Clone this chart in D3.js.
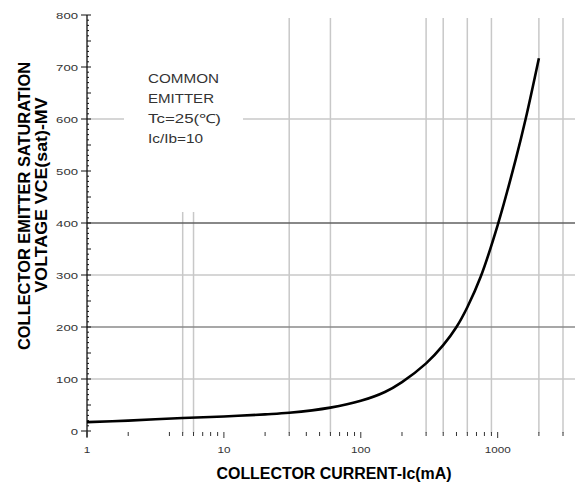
<!DOCTYPE html>
<html>
<head>
<meta charset="utf-8">
<script src="https://cdn.jsdelivr.net/npm/d3@7"></script>
<style>
  body { margin: 0; background: #fff; }
  svg { display: block; font-family: Arial, "Liberation Sans", sans-serif; }
</style>
</head>
<body>
<svg id="chart" width="575" height="486"></svg>
<script>
// curve
const currentMA = [1, 2, 5, 10, 20, 30, 60, 100, 150, 200, 300, 400, 500, 600, 750, 1000, 1350, 1600, 2000];
const vceMV     = [17, 20, 25, 28, 32, 35, 45, 58, 75, 94, 130, 165, 200, 238, 296, 396, 521, 600, 717];

const xMajorTicks = [1, 10, 100, 1000];
const xMinorTicks = [2, 4, 5, 6, 7, 8, 9, 20, 30, 40, 50, 60, 70, 80, 90,
                     200, 300, 400, 500, 600, 700, 800, 900, 2000, 3000];
const xGrid = [30, 60, 300, 400, 600, 900, 2000, 3000];
const xGridShort = [5, 6];
const yTicks = [0, 100, 200, 300, 400, 500, 600, 700, 800];
const yGridLight = [100, 300, 600];
const yGridMid = [200];
const yGridDark = [400];
const noteLines = ["COMMON", "EMITTER", "Tc=25(\u2103)", "Ic/Ib=10"];
const noteWidths = [71, 66, 73, 55];

const svg = d3.select("#chart");

const x = d3.scaleLog().domain([1, 3000]).range([87, 563]);
const y = d3.scaleLinear().domain([0, 800]).range([431, 15]);

// grid
const grid = svg.append("g");
grid.selectAll(".vg").data(xGrid).enter().append("line")
  .attr("x1", d => x(d)).attr("x2", d => x(d))
  .attr("y1", 18).attr("y2", 433)
  .attr("stroke", "#c8c8c8").attr("stroke-width", 1.5);
grid.selectAll(".vgs").data(xGridShort).enter().append("line")
  .attr("x1", d => x(d)).attr("x2", d => x(d))
  .attr("y1", 212).attr("y2", 433)
  .attr("stroke", "#c8c8c8").attr("stroke-width", 1.5);

grid.selectAll(".hgl").data(yGridLight).enter().append("line")
  .attr("x1", 87).attr("x2", 575)
  .attr("y1", d => y(d)).attr("y2", d => y(d))
  .attr("stroke", "#c8c8c8").attr("stroke-width", 1.5);
grid.selectAll(".hgm").data(yGridMid).enter().append("line")
  .attr("x1", 87).attr("x2", 575)
  .attr("y1", d => y(d)).attr("y2", d => y(d))
  .attr("stroke", "#8a8a8a").attr("stroke-width", 1.5);
grid.selectAll(".hgd").data(yGridDark).enter().append("line")
  .attr("x1", 87).attr("x2", 575)
  .attr("y1", d => y(d)).attr("y2", d => y(d))
  .attr("stroke", "#606060").attr("stroke-width", 1.6);

// gap in the 600 line behind the note
svg.append("rect").attr("x", 124).attr("y", y(600) - 2).attr("width", 119).attr("height", 4).attr("fill", "#fff");

// note
svg.append("g").selectAll("text").data(noteLines).enter().append("text")
  .attr("x", 148)
  .attr("y", (d, i) => 83 + i * 20)
  .attr("textLength", (d, i) => noteWidths[i])
  .attr("lengthAdjust", "spacingAndGlyphs")
  .attr("font-size", 12.5)
  .attr("fill", "#333")
  .text(d => d);

// y axis
const yAxis = svg.append("g");
yAxis.append("line").attr("x1", 87).attr("x2", 87).attr("y1", 15).attr("y2", 437)
  .attr("stroke", "#111").attr("stroke-width", 1.3);
yAxis.selectAll(".ymin").data(d3.range(0, 801, 10)).enter().append("line")
  .attr("x1", 87).attr("x2", d => d % 50 === 0 ? 91 : 89)
  .attr("y1", d => y(d)).attr("y2", d => y(d))
  .attr("stroke", "#111").attr("stroke-width", 1);
yAxis.selectAll(".ymaj").data(yTicks).enter().append("line")
  .attr("x1", 81).attr("x2", 87)
  .attr("y1", d => y(d)).attr("y2", d => y(d))
  .attr("stroke", "#111").attr("stroke-width", 1);
yAxis.selectAll("text").data(yTicks).enter().append("text")
  .attr("x", 78)
  .attr("y", d => y(d) + 3.5)
  .attr("text-anchor", "end")
  .attr("font-size", 9)
  .attr("textLength", d => String(d).length * 7.3)
  .attr("lengthAdjust", "spacingAndGlyphs")
  .attr("fill", "#333")
  .text(d => d);

// x ticks
const xAxis = svg.append("g");
xAxis.selectAll(".xmin").data(xMinorTicks).enter().append("line")
  .attr("x1", d => x(d)).attr("x2", d => x(d))
  .attr("y1", 432).attr("y2", 436)
  .attr("stroke", "#333").attr("stroke-width", 1);
xAxis.selectAll(".xmaj").data(xMajorTicks).enter().append("line")
  .attr("x1", d => x(d)).attr("x2", d => x(d))
  .attr("y1", 432).attr("y2", 438)
  .attr("stroke", "#333").attr("stroke-width", 1);
xAxis.selectAll("text").data(xMajorTicks).enter().append("text")
  .attr("x", d => x(d))
  .attr("y", 453)
  .attr("text-anchor", "middle")
  .attr("font-size", 9)
  .attr("textLength", d => String(d).length * 6.5)
  .attr("lengthAdjust", "spacingAndGlyphs")
  .attr("fill", "#333")
  .text(d => d);

// curve
const line = d3.line()
  .x((d, i) => x(currentMA[i]))
  .y(d => y(d))
  .curve(d3.curveCatmullRom.alpha(0.5));
svg.append("path")
  .attr("d", line(vceMV))
  .attr("fill", "none")
  .attr("stroke", "#000")
  .attr("stroke-width", 2.6);

// axis titles
svg.append("text")
  .attr("x", 334).attr("y", 479)
  .attr("text-anchor", "middle")
  .attr("font-size", 16).attr("font-weight", "bold")
  .attr("textLength", 235).attr("lengthAdjust", "spacingAndGlyphs")
  .text("COLLECTOR CURRENT-Ic(mA)");

svg.append("text")
  .attr("transform", "translate(30,206) rotate(-90)")
  .attr("text-anchor", "middle")
  .attr("font-size", 16).attr("font-weight", "bold")
  .attr("textLength", 288).attr("lengthAdjust", "spacingAndGlyphs")
  .text("COLLECTOR EMITTER SATURATION");

svg.append("text")
  .attr("transform", "translate(47,195) rotate(-90)")
  .attr("text-anchor", "middle")
  .attr("font-size", 16).attr("font-weight", "bold")
  .attr("textLength", 195).attr("lengthAdjust", "spacingAndGlyphs")
  .text("VOLTAGE VCE(sat)-MV");
</script>
</body>
</html>
